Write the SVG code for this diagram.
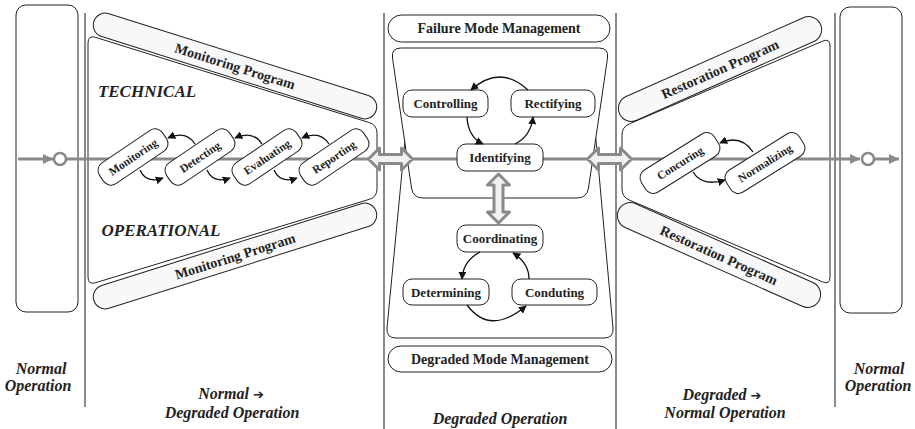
<svg xmlns="http://www.w3.org/2000/svg" width="915" height="429" viewBox="0 0 915 429">
<defs>
<style>
.sep{stroke:#8a8a8a;stroke-width:2;fill:none}
.frame{fill:#fff;stroke:#222;stroke-width:1}
.band{fill:#f8f8f8;stroke:#222;stroke-width:1}
.box{fill:#fff;stroke:#222;stroke-width:1}
.t{font-family:"Liberation Serif","Times New Roman",serif;font-weight:bold;fill:#222;text-anchor:middle}
.ti{font-family:"Liberation Serif","Times New Roman",serif;font-weight:bold;font-style:italic;fill:#222;text-anchor:middle}
.arw{font-family:"DejaVu Sans",sans-serif;font-style:normal;font-size:13px}
.main{stroke:#8a8a8a;stroke-width:3;fill:none}
.cur{stroke:#111;stroke-width:1.3;fill:none;marker-end:url(#ah)}
.dbl{fill:#f2f2f2;stroke:#8a8a8a;stroke-width:3;stroke-linejoin:round}
</style>
<marker id="ah" viewBox="0 0 10 10" refX="9" refY="5" markerWidth="8" markerHeight="8" markerUnits="userSpaceOnUse" orient="auto">
<path d="M0,0 L10,5 L0,10 Z" fill="#111"/>
</marker>
<marker id="gh" viewBox="0 0 10 10" refX="10" refY="5" markerWidth="10" markerHeight="10" markerUnits="userSpaceOnUse" orient="auto">
<path d="M0,0 L10,5 L0,10 Z" fill="#8a8a8a"/>
</marker>
</defs>

<g id="separators">
<line class="sep" x1="85" y1="13" x2="85" y2="407"/>
<line class="sep" x1="384" y1="13" x2="384" y2="429"/>
<line class="sep" x1="616" y1="13" x2="616" y2="429"/>
<line class="sep" x1="835" y1="13" x2="835" y2="407"/>
</g>

<g id="normal-left"><rect class="frame" x="16" y="5" width="62" height="307" rx="10"/></g>
<g id="normal-right"><rect class="frame" x="840" y="7" width="62" height="306" rx="10"/></g>

<g id="monitoring-area">
<path class="frame" d="M95.6,37.4 L369.4,122.6 Q377,125 377,133 L377,189 Q377,197 369.3,199.3 L95.7,282.7 Q88,285 88,277 L88,43 Q88,35 95.6,37.4 Z"/>
<text class="ti" x="147" y="97" font-size="17">TECHNICAL</text>
<text class="ti" x="161" y="236" font-size="17">OPERATIONAL</text>
</g>
<g id="monitoring-program-top" transform="translate(235,66) rotate(17.5)">
<rect class="band" x="-148" y="-12" width="296" height="24" rx="12"/>
<text class="t" x="0" y="5" font-size="14">Monitoring Program</text>
</g>
<g id="monitoring-program-bottom" transform="translate(235,256) rotate(-17.5)">
<rect class="band" x="-148" y="-12" width="296" height="24" rx="12"/>
<text class="t" x="0" y="5" font-size="14">Monitoring Program</text>
</g>

<g id="degraded-lower"><path class="frame" d="M417,120 L584,120 Q594,120 595,130 L613,328 Q614,338 604,338 L396,338 Q386,338 387,328 L406,130 Q407,120 417,120 Z"/></g>
<g id="degraded-upper"><path class="frame" d="M401,48 L599,48 Q609,48 607.5,58 L588.5,188 Q587,198 577,198 L423,198 Q413,198 411.5,188 L392.5,58 Q391,48 401,48 Z"/></g>

<g id="restoration-area"><path class="frame" d="M629.4,123.85 L822.6,41.15 Q830,38 830,46 L830,277 Q830,285 822.6,281.9 L629.4,200.1 Q622,197 622,189 L622,135 Q622,127 629.4,123.85 Z"/></g>
<g id="restoration-program-top" transform="translate(720,69) rotate(-24)">
<rect class="band" x="-110" y="-13" width="220" height="26" rx="13"/>
<text class="t" x="0" y="5" font-size="14">Restoration Program</text>
</g>
<g id="restoration-program-bottom" transform="translate(719,255) rotate(24)">
<rect class="band" x="-110" y="-13" width="220" height="26" rx="13"/>
<text class="t" x="0" y="5" font-size="14">Restoration Program</text>
</g>

<g id="connectors">
<line class="main" x1="18" y1="159" x2="53" y2="159" marker-end="url(#gh)"/>
<circle cx="60" cy="159" r="6" fill="#fff" stroke="#8a8a8a" stroke-width="2.5"/>
<line class="main" x1="66" y1="159" x2="370" y2="159"/>
<line class="main" x1="412" y1="159" x2="588" y2="159"/>
<line class="main" x1="630" y1="159" x2="860" y2="159" marker-end="url(#gh)"/>
<circle cx="868" cy="159" r="6" fill="#fff" stroke="#8a8a8a" stroke-width="2.5"/>
<line class="main" x1="874" y1="159" x2="899" y2="159" marker-end="url(#gh)"/>
<path class="dbl" d="M368.5,159 L379.5,148 L379.5,154.5 L401.5,154.5 L401.5,148 L412.5,159 L401.5,170 L401.5,163.5 L379.5,163.5 L379.5,170 Z"/>
<path class="dbl" d="M587.5,159 L598.5,148 L598.5,154.5 L620.5,154.5 L620.5,148 L631.5,159 L620.5,170 L620.5,163.5 L598.5,163.5 L598.5,170 Z"/>
<path class="dbl" d="M498.5,174 L509.5,185 L503,185 L503,212 L509.5,212 L498.5,223 L487.5,212 L494,212 L494,185 L487.5,185 Z"/>
</g>

<g id="monitoring" transform="translate(133,157) rotate(-34)"><rect class="box" x="-38" y="-12.5" width="76" height="25" rx="9"/><text class="t" x="0" y="4" font-size="11.5">Monitoring</text></g>
<g id="detecting" transform="translate(200,157) rotate(-34)"><rect class="box" x="-38" y="-12.5" width="76" height="25" rx="9"/><text class="t" x="0" y="4" font-size="11.5">Detecting</text></g>
<g id="evaluating" transform="translate(267,157) rotate(-34)"><rect class="box" x="-38" y="-12.5" width="76" height="25" rx="9"/><text class="t" x="0" y="4" font-size="11.5">Evaluating</text></g>
<g id="reporting" transform="translate(334,157) rotate(-34)"><rect class="box" x="-38" y="-12.5" width="76" height="25" rx="9"/><text class="t" x="0" y="4" font-size="11.5">Reporting</text></g>

<g id="concuring" transform="translate(680,163) rotate(-32)"><rect class="box" x="-43" y="-13" width="86" height="26" rx="9"/><text class="t" x="0" y="4" font-size="11.5">Concuring</text></g>
<g id="normalizing" transform="translate(765,163) rotate(-32)"><rect class="box" x="-43" y="-13" width="86" height="26" rx="9"/><text class="t" x="0" y="4" font-size="11.5">Normalizing</text></g>

<g id="failure-mode-management"><rect class="box" x="388" y="15" width="222" height="27" rx="13.5"/><text class="t" x="499" y="33" font-size="14">Failure Mode Management</text></g>
<g id="degraded-mode-management"><rect class="box" x="388" y="346" width="224" height="26" rx="13"/><text class="t" x="500" y="364" font-size="14">Degraded Mode Management</text></g>

<g id="controlling"><rect class="box" x="403" y="90" width="85" height="27" rx="9"/><text class="t" x="445.5" y="108" font-size="13">Controlling</text></g>
<g id="rectifying"><rect class="box" x="511" y="90" width="84" height="27" rx="9"/><text class="t" x="553" y="108" font-size="13">Rectifying</text></g>
<g id="identifying"><rect class="box" x="457" y="144" width="86" height="27" rx="9"/><text class="t" x="500" y="162" font-size="13">Identifying</text></g>
<g id="coordinating"><rect class="box" x="457" y="225" width="86" height="27" rx="9"/><text class="t" x="500" y="243" font-size="13">Coordinating</text></g>
<g id="determining"><rect class="box" x="403" y="279" width="86" height="26" rx="9"/><text class="t" x="446" y="296.5" font-size="13">Determining</text></g>
<g id="conduting"><rect class="box" x="512" y="279" width="85" height="26" rx="9"/><text class="t" x="554.5" y="296.5" font-size="13">Conduting</text></g>

<g id="cycle-connectors">
<path class="cur" d="M195,144 Q186,130 168,138"/>
<path class="cur" d="M262,144 Q253,130 235,138"/>
<path class="cur" d="M329,144 Q320,130 302,138"/>
<path class="cur" d="M140,170 Q146,184 163,178"/>
<path class="cur" d="M207,170 Q213,184 230,178"/>
<path class="cur" d="M274,170 Q280,184 297,178"/>
<path class="cur" d="M528,90 Q500,64 471,90"/>
<path class="cur" d="M467,117 Q468,137 483,144"/>
<path class="cur" d="M515,144 Q531,136 533,117"/>
<path class="cur" d="M480,252 Q463,261 462,279"/>
<path class="cur" d="M467,305 Q490,336 526,306"/>
<path class="cur" d="M529,279 Q529,263 513,253"/>
<path class="cur" d="M753,152 Q741,134 720,143"/>
<path class="cur" d="M693,172 Q702,187 725,180"/>
</g>

<g id="phase-labels">
<text class="ti" x="41" y="374" font-size="16">Normal</text>
<text class="ti" x="38" y="391" font-size="16">Operation</text>
<text class="ti" x="231" y="399" font-size="16">Normal <tspan class="arw">➔</tspan></text>
<text class="ti" x="232" y="418" font-size="16">Degraded Operation</text>
<text class="ti" x="500" y="424" font-size="16">Degraded Operation</text>
<text class="ti" x="722" y="400" font-size="16">Degraded <tspan class="arw">➔</tspan></text>
<text class="ti" x="725" y="418" font-size="16">Normal Operation</text>
<text class="ti" x="879" y="374" font-size="16">Normal</text>
<text class="ti" x="878" y="391" font-size="16">Operation</text>
</g>
</svg>
